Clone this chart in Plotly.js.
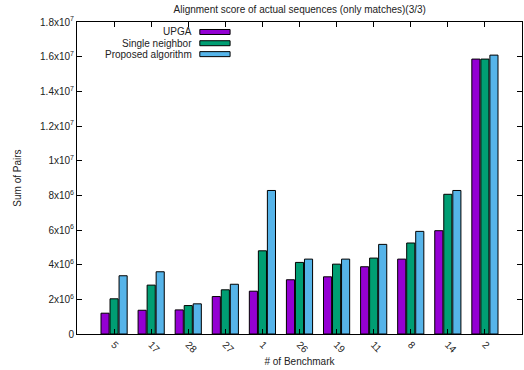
<!DOCTYPE html>
<html>
<head>
<meta charset="utf-8">
<script src="https://cdn.plot.ly/plotly-3.0.1.min.js"></script>
<style>html,body{margin:0;padding:0;background:#fff;}#chart{width:524px;height:370px;}</style>
</head>
<body>
<div id="chart"></div>
<script>
var benchmarks = ["5", "17", "28", "27", "1", "26", "19", "11", "8", "14", "2"];
var upga = [1.20e6, 1.37e6, 1.39e6, 2.16e6, 2.47e6, 3.13e6, 3.30e6, 3.88e6, 4.32e6, 5.96e6, 1.586e7];
var singleNeighbor = [2.03e6, 2.82e6, 1.64e6, 2.55e6, 4.80e6, 4.13e6, 4.03e6, 4.38e6, 5.25e6, 8.06e6, 1.586e7];
var proposed = [3.36e6, 3.59e6, 1.74e6, 2.87e6, 8.28e6, 4.32e6, 4.32e6, 5.17e6, 5.92e6, 8.28e6, 1.609e7];
var seriesNames = ["UPGA", "Single neighbor", "Proposed algorithm"];
var seriesColors = ["#9400D3", "#009E73", "#56B4E9"];
var yTickVals = [0, 2e6, 4e6, 6e6, 8e6, 1e7, 1.2e7, 1.4e7, 1.6e7, 1.8e7];
var yTickText = ["0", "2x10<sup>6</sup>", "4x10<sup>6</sup>", "6x10<sup>6</sup>", "8x10<sup>6</sup>",
  "1x10<sup>7</sup>", "1.2x10<sup>7</sup>", "1.4x10<sup>7</sup>", "1.6x10<sup>7</sup>", "1.8x10<sup>7</sup>"];

var allValues = [upga, singleNeighbor, proposed];
var traces = allValues.map(function (vals, i) {
  return {
    type: "bar",
    name: seriesNames[i],
    x: benchmarks,
    y: vals,
    marker: { color: seriesColors[i], line: { color: "#000", width: 1 } },
    showlegend: false,
    hoverinfo: "none"
  };
});

var txtColor = "#222";
var fam = "Liberation Sans, Arial, sans-serif";
var legendY = [0.968, 0.932, 0.897];
var annotations = [];
var shapes = [];
seriesNames.forEach(function (n, i) {
  annotations.push({
    xref: "paper", yref: "paper", x: 0.262, y: legendY[i],
    xanchor: "right", yanchor: "middle", showarrow: false,
    text: n, font: { family: fam, size: 10, color: txtColor }
  });
  shapes.push({
    type: "rect", xref: "paper", yref: "paper",
    x0: 0.276, x1: 0.344, y0: legendY[i] - 0.008, y1: legendY[i] + 0.008,
    fillcolor: seriesColors[i], line: { color: "#000", width: 1 }
  });
});

var layout = {
  width: 524, height: 370,
  margin: { l: 77, r: 2, t: 22, b: 36 },
  paper_bgcolor: "#fff", plot_bgcolor: "#fff",
  font: { family: fam, size: 10, color: txtColor },
  title: { text: "Alignment score of actual sequences (only matches)(3/3)", x: 0.572, xanchor: "center", y: 0.973, yanchor: "middle",
    font: { family: fam, size: 10, color: txtColor } },
  barmode: "group",
  bargap: 0.27,
  bargroupgap: 0.1,
  xaxis: {
    type: "category",
    range: [-1, 11],
    showline: true, linecolor: "#000", linewidth: 1, mirror: "ticks",
    ticks: "inside", ticklen: 5, tickcolor: "#000",
    tickangle: 45,
    showgrid: false, zeroline: false,
    tickfont: { family: fam, size: 10, color: txtColor },
    title: { text: "# of Benchmark", standoff: 3, font: { family: fam, size: 10, color: txtColor } }
  },
  yaxis: {
    range: [0, 1.8e7],
    showline: true, linecolor: "#000", linewidth: 1, mirror: "ticks",
    ticks: "inside", ticklen: 5, tickcolor: "#000",
    tickvals: yTickVals, ticktext: yTickText,
    showgrid: false, zeroline: false,
    tickfont: { family: fam, size: 10, color: txtColor },
    title: { text: "Sum of Pairs", standoff: 16, font: { family: fam, size: 10, color: txtColor } }
  },
  annotations: annotations,
  shapes: shapes
};

Plotly.newPlot("chart", traces, layout, { displayModeBar: false, staticPlot: true });
</script>
</body>
</html>
